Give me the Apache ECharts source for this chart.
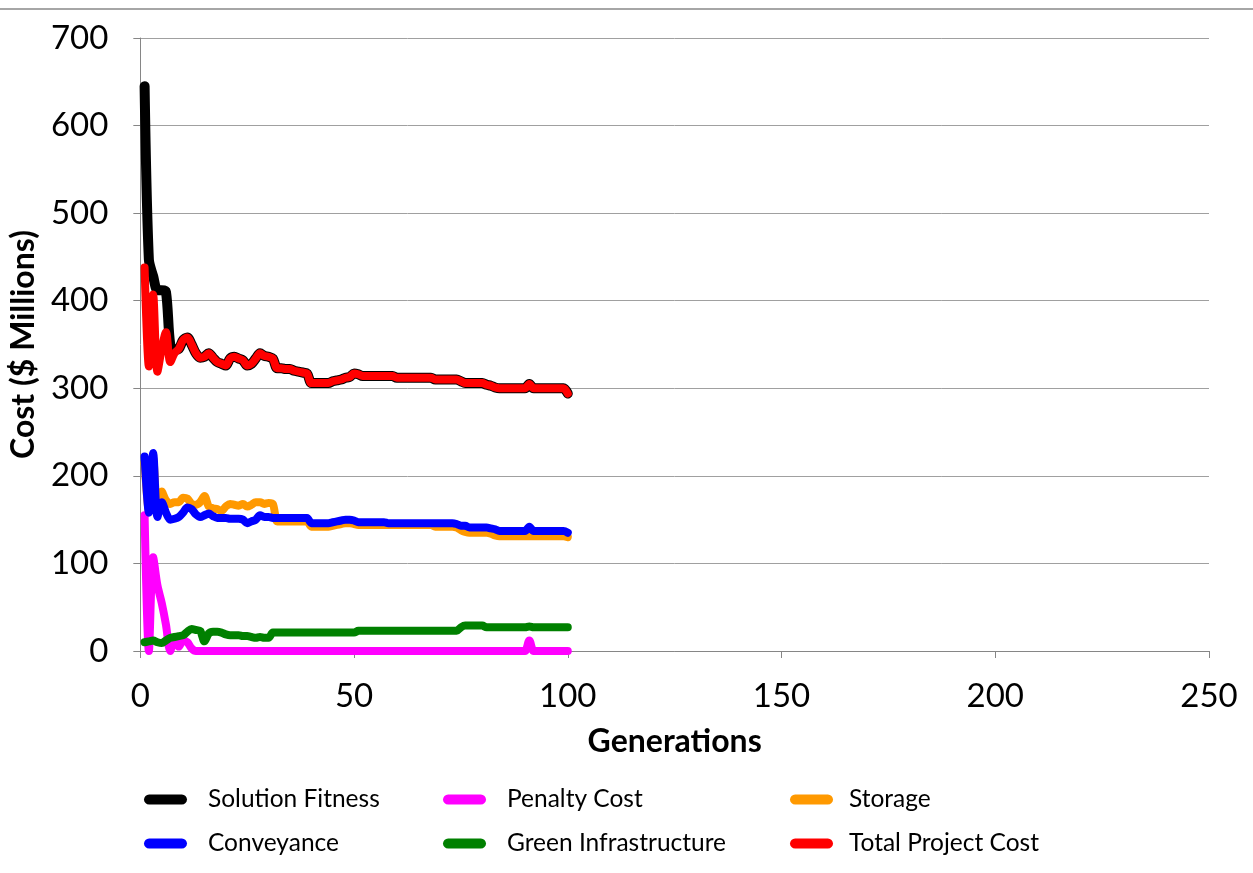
<!DOCTYPE html>
<html>
<head>
<meta charset="utf-8">
<script src="https://cdn.jsdelivr.net/npm/echarts@6/dist/echarts.min.js"></script>
<style>
  html, body { margin: 0; padding: 0; background: #ffffff; }
  #chart { width: 1253px; height: 873px; }
</style>
</head>
<body>
<div id="chart"></div>
<script>
// Generations 1..100 of the optimisation run
const generations = Array.from({ length: 100 }, (_, i) => i + 1);

const xTicks = [0, 50, 100, 150, 200, 250];
const yTicks = [0, 100, 200, 300, 400, 500, 600, 700];

// Cost components per generation ($ Millions)
const solutionFitness = [
  645, 447, 428, 412, 412, 410, 350, 344, 345, 355,
  358, 350, 340, 335, 336, 340, 335, 330, 328, 326,
  334, 336, 334, 332, 326, 328, 334, 340, 337, 336,
  334, 323, 323, 322, 322, 320, 319, 318, 317, 306,
  306, 306, 306, 306, 308, 309, 310, 312, 313, 317,
  316, 314, 314, 314, 314, 314, 314, 314, 314, 312,
  312, 312, 312, 312, 312, 312, 312, 312, 310, 310,
  310, 310, 310, 310, 308, 306, 306, 306, 306, 306,
  304, 303, 301, 300, 300, 300, 300, 300, 300, 300,
  305, 300, 300, 300, 300, 300, 300, 300, 300, 294
];

const penaltyCost = [
  155, 0, 107, 75, 55, 30, 0, 15, 5, 12,
  10, 3, 0, 0, 0, 0, 0, 0, 0, 0,
  0, 0, 0, 0, 0, 0, 0, 0, 0, 0,
  0, 0, 0, 0, 0, 0, 0, 0, 0, 0,
  0, 0, 0, 0, 0, 0, 0, 0, 0, 0,
  0, 0, 0, 0, 0, 0, 0, 0, 0, 0,
  0, 0, 0, 0, 0, 0, 0, 0, 0, 0,
  0, 0, 0, 0, 0, 0, 0, 0, 0, 0,
  0, 0, 0, 0, 0, 0, 0, 0, 0, 0,
  12, 0, 0, 0, 0, 0, 0, 0, 0, 0
];

const storage = [
  215, 160, 220, 160, 182, 172, 168, 170, 170, 175,
  174, 168, 167, 170, 177, 165, 163, 162, 160, 165,
  168, 167, 166, 168, 165, 167, 170, 170, 168, 169,
  168, 148, 148, 148, 148, 148, 148, 148, 148, 142,
  142, 142, 142, 142, 143, 144, 145, 146, 146, 145,
  144, 144, 144, 144, 144, 144, 144, 144, 144, 144,
  144, 144, 144, 144, 144, 144, 144, 144, 142, 142,
  142, 142, 142, 141, 138, 136, 135, 135, 135, 135,
  135, 134, 132, 131, 131, 131, 131, 131, 131, 131,
  131, 131, 131, 131, 131, 131, 131, 131, 131, 130
];

const conveyance = [
  222, 158, 226, 153, 170, 158, 150, 151, 153, 158,
  164, 162, 156, 153, 155, 157, 154, 152, 152, 152,
  151, 151, 151, 150, 146, 148, 150, 155, 153, 153,
  152, 152, 152, 152, 152, 152, 152, 152, 152, 146,
  146, 146, 146, 146, 147, 148, 149, 150, 150, 149,
  147, 147, 147, 147, 147, 147, 147, 146, 146, 146,
  146, 146, 146, 146, 146, 146, 146, 146, 146, 146,
  146, 146, 146, 145, 143, 143, 141, 141, 141, 141,
  141, 140, 139, 137, 137, 137, 137, 137, 137, 137,
  142, 137, 137, 137, 137, 137, 137, 137, 137, 135
];

const greenInfrastructure = [
  10, 11, 12, 10, 9, 12, 15, 16, 17, 18,
  22, 25, 24, 23, 11, 20, 22, 22, 21, 19,
  18, 18, 18, 17, 17, 16, 15, 16, 15, 15,
  21, 21, 21, 21, 21, 21, 21, 21, 21, 21,
  21, 21, 21, 21, 21, 21, 21, 21, 21, 21,
  23, 23, 23, 23, 23, 23, 23, 23, 23, 23,
  23, 23, 23, 23, 23, 23, 23, 23, 23, 23,
  23, 23, 23, 23, 27, 29, 29, 29, 29, 29,
  27, 27, 27, 27, 27, 27, 27, 27, 27, 27,
  28, 27, 27, 27, 27, 27, 27, 27, 27, 27
];

const totalProjectCost = [
  438, 325, 407, 319, 345, 364, 330, 340, 345, 355,
  358, 350, 340, 335, 336, 340, 335, 330, 328, 326,
  334, 336, 334, 332, 326, 328, 334, 340, 337, 336,
  334, 323, 323, 322, 322, 320, 319, 318, 317, 306,
  306, 306, 306, 306, 308, 309, 310, 312, 313, 317,
  316, 314, 314, 314, 314, 314, 314, 314, 314, 312,
  312, 312, 312, 312, 312, 312, 312, 312, 310, 310,
  310, 310, 310, 310, 308, 306, 306, 306, 306, 306,
  304, 303, 301, 300, 300, 300, 300, 300, 300, 300,
  305, 300, 300, 300, 300, 300, 300, 300, 300, 294
];

const seriesDefs = [
  { name: 'Solution Fitness', values: solutionFitness, color: '#000000', width: 10 },
  { name: 'Penalty Cost', values: penaltyCost, color: '#FF00FF', width: 8 },
  { name: 'Storage', values: storage, color: '#FF9900', width: 8 },
  { name: 'Conveyance', values: conveyance, color: '#0000FF', width: 8 },
  { name: 'Green Infrastructure', values: greenInfrastructure, color: '#008000', width: 8 },
  { name: 'Total Project Cost', values: totalProjectCost, color: '#FF0000', width: 8 }
];

const FONT = 'Lato, "Open Sans", sans-serif';
const capsule = 'path://M5,0 L37,0 A5,5 0 0 1 37,10 L5,10 A5,5 0 0 1 5,0 Z';

function legendColumn(names, left, textGap) {
  return {
    data: names,
    orient: 'vertical',
    left: left,
    top: 786,
    itemWidth: 43,
    itemHeight: 11,
    itemGap: 17,
    icon: capsule,
    selectedMode: false,
    padding: 0,
    textStyle: {
      fontFamily: FONT,
      fontSize: 24.5,
      color: '#000000',
      lineHeight: 27,
      padding: [0, 0, 0, textGap]
    }
  };
}

const chart = echarts.init(document.getElementById('chart'), null, { renderer: 'canvas' });

chart.setOption({
  backgroundColor: '#ffffff',
  animation: false,
  graphic: [{
    type: 'line',
    shape: { x1: 0, y1: 9, x2: 1253, y2: 9 },
    style: { stroke: '#a6a6a6', lineWidth: 2 }
  }],
  grid: { left: 137, right: 44, top: 38, bottom: 222 },
  legend: [
    legendColumn(['Solution Fitness', 'Conveyance'], 144, 16),
    legendColumn(['Penalty Cost', 'Green Infrastructure'], 443, 16),
    legendColumn(['Storage', 'Total Project Cost'], 790, 11)
  ],
  xAxis: {
    type: 'value',
    min: xTicks[0],
    max: xTicks[xTicks.length - 1],
    interval: xTicks[1] - xTicks[0],
    name: 'Generations',
    nameLocation: 'middle',
    nameGap: 75,
    nameTextStyle: { fontFamily: FONT, fontSize: 32, fontWeight: 'bold', color: '#000000' },
    axisLine: { show: true, lineStyle: { color: '#868686', width: 1 } },
    axisTick: { show: true, length: 7, lineStyle: { color: '#868686' } },
    splitLine: { show: false },
    axisLabel: { fontFamily: FONT, fontSize: 33, color: '#000000', margin: 29 }
  },
  yAxis: {
    type: 'value',
    min: yTicks[0],
    max: yTicks[yTicks.length - 1],
    interval: yTicks[1] - yTicks[0],
    name: 'Cost ($ Millions)',
    nameLocation: 'middle',
    nameGap: 90,
    nameTextStyle: { fontFamily: FONT, fontSize: 32, fontWeight: 'bold', color: '#000000' },
    axisLine: { show: true, lineStyle: { color: '#868686', width: 1 } },
    axisTick: { show: true, length: 7, lineStyle: { color: '#868686' } },
    splitLine: { show: true, lineStyle: { color: '#a0a0a0', width: 1 } },
    axisLabel: { fontFamily: FONT, fontSize: 33, color: '#000000', margin: 32 }
  },
  series: seriesDefs.map(s => ({
    name: s.name,
    type: 'line',
    data: generations.map((g, i) => [g, s.values[i]]),
    smooth: 0.3,
    showSymbol: false,
    symbol: 'none',
    color: s.color,
    lineStyle: { color: s.color, width: s.width, cap: 'round', join: 'round' },
    itemStyle: { color: s.color }
  }))
});
</script>
</body>
</html>
